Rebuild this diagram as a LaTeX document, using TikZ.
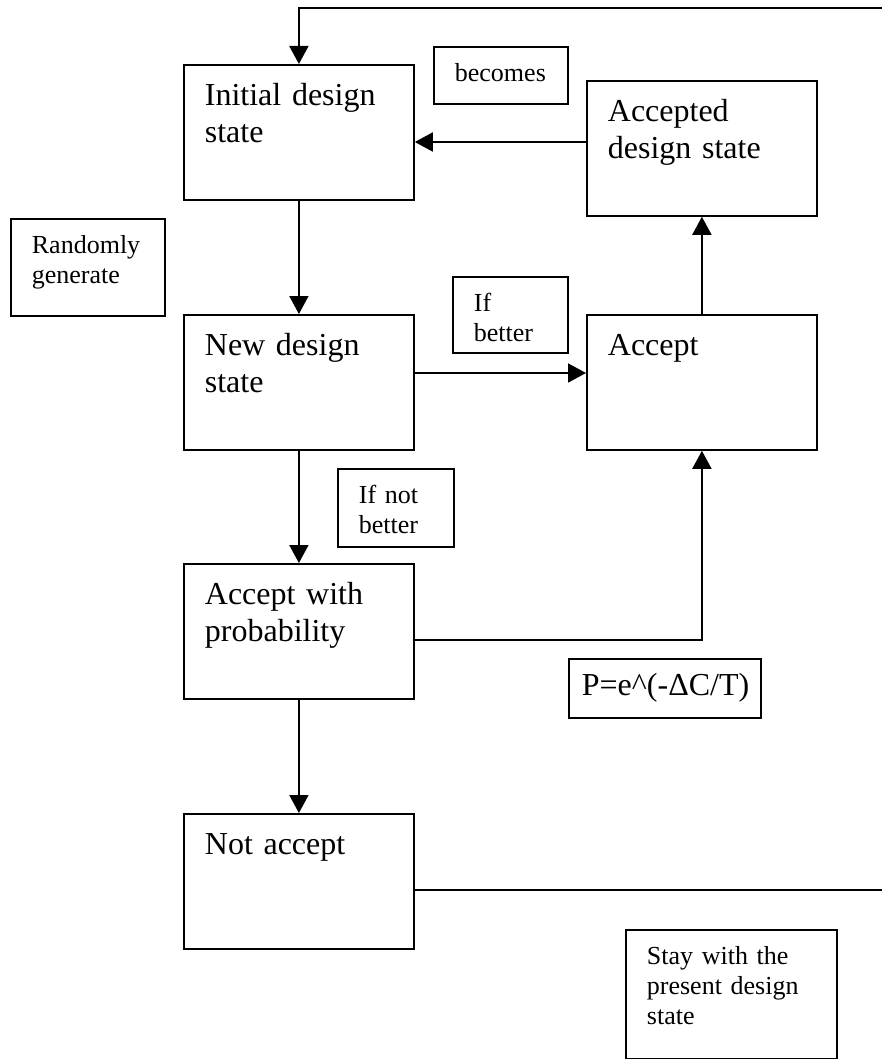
\documentclass[tikz,border=0pt]{standalone}
\usepackage{fontspec}
\setmainfont{Liberation Serif}
\usetikzlibrary{arrows.meta}

\newcommand\grossschrift{\fontsize{32}{37}\selectfont}
\newcommand\kleinschrift{\fontsize{26}{30}\selectfont}

\tikzset{
    zustand/.style={draw, line width=1.8pt, anchor=north west, align=left, font=\grossschrift,
                    inner xsep=21pt, inner ysep=19pt, text height=22pt},
    notiz/.style={draw, line width=1.8pt, anchor=north west, align=left, font=\kleinschrift,
                  inner xsep=21pt, inner ysep=17pt, text height=18pt},
    pfeil/.style={line width=1.8pt, -{Triangle[length=18pt,width=19pt]}},
    linie/.style={line width=1.8pt}
}

\begin{document}
\begin{tikzpicture}[x=1pt, y=-1pt]
    \useasboundingbox (0,0) rectangle (882,1059);

    % Zustaende (grosse Kaesten)
    \foreach \name/\x/\y/\inhalt in {init/183/64/{Initial design\\state},
                                     accd/586/80/{Accepted\\design state},
                                     neu/183/314/{New design\\state},
                                     acc/586/314/{Accept},
                                     awp/183/563/{Accept with\\probability},
                                     nicht/183/813/{Not accept}}
        {
            \node[zustand, text width=188pt, text depth=75pt] (\name) at (\x,\y) {\inhalt};
        }

    % Notizen (kleine Kaesten)
    \foreach \name/\x/\y/\b/\t/\inhalt in {werd/433/46/92/5/{becomes},
                                           zufall/10/218/112/45/{Randomly\\generate},
                                           besser/452/276/73/24/{If\\better},
                                           schlechter/337/468/74/26/{If not\\better},
                                           bleiben/625/929/169/77/{Stay with the\\present design\\state}}
        {
            \node[notiz, text width=\b pt, text depth=\t pt] (\name) at (\x,\y) {\inhalt};
        }

    % Formel
    \node[zustand, inner xsep=13pt, inner ysep=15pt, text width=166pt, text depth=7pt] (formel)
        at (568,658) {\mbox{P=e\textasciicircum(-ΔC/T)}};

    % Hilfspunkte am rechten Rand
    \coordinate (obenrechts) at (882,8);
    \coordinate (untenrechts) at (882,890);
    \coordinate (knick) at (701,640);

    % Verbindungen
    \draw[pfeil] (obenrechts) -| (init.north);
    \draw[pfeil] (init.south) -- (neu.north);
    \draw[pfeil] (neu.south) -- (awp.north);
    \draw[pfeil] (awp.south) -- (nicht.north);
    \draw[pfeil] (accd.west |- 0,142) -- (init.east |- 0,142);
    \draw[pfeil] (neu.east |- 0,373) -- (acc.west |- 0,373);
    \draw[pfeil] (acc.north) -- (accd.south);
    \draw[pfeil] (awp.east |- knick) -- (knick -| acc.south) -- (acc.south);
    \draw[linie] (nicht.east |- untenrechts) -- (untenrechts);

\end{tikzpicture}
\end{document}
